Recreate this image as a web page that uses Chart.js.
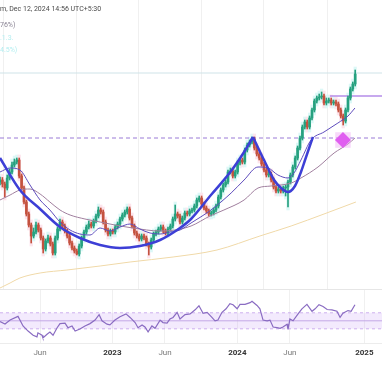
<!DOCTYPE html>
<html>
<head>
<meta charset="utf-8">
<script src="https://cdn.jsdelivr.net/npm/chart.js@4.4.1/dist/chart.umd.min.js"></script>
<style>
  html, body { margin: 0; padding: 0; background: #fff; }
  #wrap { position: relative; width: 382px; height: 382px; overflow: hidden; background: #fff; font-family: Roboto, sans-serif; }
  .pane { position: absolute; left: 0; width: 382px; }
  .sep { position: absolute; left: 0; width: 382px; height: 1px; background: #e6e6e6; z-index: 4; }
  .hdr { position: absolute; left: 0; font-size: 7px; line-height: 10px; white-space: nowrap; z-index: 5; }
</style>
</head>
<body>
<div id="wrap">
  <div class="pane" style="top:0;height:289px"><canvas id="chPrice"></canvas></div>
  <div class="pane" style="top:289px;height:93px"><canvas id="chRsi"></canvas></div>
  <div class="sep" style="top:289px"></div>
  <div class="hdr" style="top:4px;color:#4a4a4a">m, Dec 12, 2024 14:56 UTC+5:30</div>
  <div class="hdr" style="top:20px;color:#8a8494">76%)</div>
  <div class="hdr" style="top:33px;color:#b4eef0">.1.3.</div>
  <div class="hdr" style="top:45px;color:#b4eef0">4.5%)</div>
</div>
<script>
// weekly candles, week 0 ~ mid Feb 2022
const opens = [1180,1200,1160,1120,1220,1280,1350,1380,1400,1240,
  1120,980,860,750,640,680,750,700,620,510,
  590,620,560,470,620,710,780,740,690,640,
  570,520,490,460,540,620,680,730,760,740,
  790,840,900,880,780,700,660,690,680,730,
  760,810,850,880,910,820,740,670,640,610,
  640,620,560,530,600,660,680,710,730,690,
  670,710,740,810,860,840,780,820,870,860,
  890,900,940,1000,1020,960,920,890,860,870,
  900,940,1030,1100,1150,1180,1280,1290,1240,1280,
  1370,1400,1380,1500,1550,1580,1610,1520,1460,1420,
  1360,1300,1250,1260,1200,1130,1090,1110,1090,1120,
  1130,1180,1250,1330,1420,1520,1620,1730,1780,1730,
  1820,1900,1990,2020,2030,2040,1970,1990,2000,1970,
  1980,1960,1900,1840,1790,1900,2020,2110,2160];
const highs = [1230,1225,1180,1250,1310,1380,1410,1420,1420,1260,
  1140,1000,880,770,720,780,770,720,640,610,
  650,640,580,640,730,810,800,760,710,660,
  590,540,510,560,640,700,750,790,780,810,
  860,930,920,900,800,720,710,710,750,780,
  830,870,900,930,930,840,760,690,660,660,
  660,640,580,620,680,700,730,750,750,710,
  730,760,830,950,880,860,840,890,890,910,
  920,960,1020,1040,1040,980,940,910,890,920,
  960,1050,1120,1170,1200,1300,1320,1310,1300,1390,
  1420,1420,1520,1570,1600,1630,1630,1540,1480,1440,
  1380,1320,1290,1280,1220,1150,1130,1130,1140,1150,
  1200,1270,1350,1440,1540,1640,1750,1800,1800,1840,
  1920,2010,2040,2060,2080,2060,2020,2020,2020,2000,
  2000,1980,1920,1860,1920,2040,2130,2180,2300];
const lows = [1150,1130,1030,1100,1200,1260,1330,1360,1220,1100,
  960,840,730,570,620,660,680,600,470,490,
  570,540,450,450,600,690,720,670,620,550,
  500,470,450,440,520,600,660,710,720,720,
  770,820,860,760,680,640,640,660,660,710,
  740,790,830,860,800,720,650,620,590,590,
  600,540,450,510,580,640,660,690,670,650,
  650,690,720,790,820,760,760,800,840,840,
  870,880,920,980,940,900,870,840,840,850,
  880,920,1010,1080,1130,1160,1260,1220,1220,1260,
  1350,1360,1360,1480,1530,1560,1500,1440,1400,1340,
  1280,1230,1230,1180,1110,1070,1070,1070,1070,1040,
  930,1160,1230,1310,1400,1500,1600,1710,1710,1710,
  1800,1880,1970,2000,2010,1950,1950,1970,1950,1950,
  1940,1880,1820,1750,1770,1880,2000,2090,2140];
const closes = [1200,1160,1120,1220,1280,1350,1380,1400,1240,1120,
  980,860,750,640,680,750,700,620,510,590,
  620,560,470,620,710,780,740,690,640,570,
  520,490,460,540,620,680,730,760,740,790,
  840,900,880,780,700,660,690,680,730,760,
  810,850,880,910,820,740,670,640,610,640,
  620,560,530,600,660,680,710,730,690,670,
  710,740,810,860,840,780,820,870,860,890,
  900,940,1000,1020,960,920,890,860,870,900,
  940,1030,1100,1150,1180,1280,1290,1240,1280,1370,
  1400,1380,1500,1550,1580,1610,1520,1460,1420,1360,
  1300,1250,1260,1200,1130,1090,1110,1090,1120,1130,
  1180,1250,1330,1420,1520,1620,1730,1780,1730,1820,
  1900,1990,2020,2030,2040,1970,1990,2000,1970,1980,
  1960,1900,1840,1790,1900,2020,2110,2160,2260];

// moving averages
const ma20Weeks = [0,4.2,8.3,12.5,16.7,20.8,25,29.2,33.3,37.5,41.7,45.8,50,54.2,58.3,62.5,66.7,70.8,75,79.6,87.9,96.3,101.7,107.5,111.7,115.8,120,122.5,125.4,129.6,135,140.8,145,147.9];
const ma20Values = [1280,1320,1300,1150,1000,900,780,700,660,650,720,690,730,760,710,670,660,680,700,770,900,1070,1200,1330,1320,1250,1220,1270,1400,1600,1680,1770,1840,1920];
const ma50Weeks = [0,4.2,8.3,12.5,16.7,20.8,25,29.2,35.4,41.7,47.9,55.4,66.7,72.9,79.6,87.5,93.3,101.7,107.5,112.9,121.3,125.4,132.5,139.2,145,147.9];
const ma50Values = [1000,1050,1100,1110,1060,980,900,850,810,780,750,720,690,700,740,840,900,1000,1120,1140,1170,1220,1330,1470,1560,1620];
const ma200Weeks = [0,4.2,8.3,16.7,27.9,41.7,54.2,72.1,90.4,108.3,121.3,135,148.3];
const ma200Values = [120,170,220,270,300,340,380,430,500,640,740,860,980];

// hand-drawn trend curves
const cupWeeks = [0,8.3,16.7,25,33.3,41.7,50,58.3,66.7,75,79.6,87.9,96.3,101.7,105.4];
const cupValues = [1420,1100,910,730,620,550,520,540,600,720,810,1050,1290,1480,1630];
const dipWeeks = [105.4,110,114.2,117.1,120,122.9,125.4,127.1,128.8,130.4];
const dipValues = [1630,1400,1200,1120,1080,1140,1280,1400,1520,1630];

// levels and signal
const highLevel = 2270;
const breakoutLevel = 1620;
const recentLevel = 2040;
const recentLevelFrom = 137.5;
const signalWeek = 142.9;
const signalValue = 1600;

// RSI
const rsiWeeks = [0,2.1,4.2,7.5,9.6,11.7,13.8,15.4,15.8,17.5,17.9,19.6,20.8,22.1,23.8,25,27.1,28.3,30,31.3,33.3,35.4,37.5,39.6,41.3,42.5,44.6,45.8,47.9,50,52.5,54.2,56.3,57.5,59.2,60.4,61.7,63.3,64.6,66.7,67.9,69.6,70.8,72.1,73.8,75,77.1,79.2,81.3,82.9,84.6,86.3,88.3,89.6,90.8,92.5,94.2,95.8,97.1,98.8,100,102.1,104.2,105,107.1,108.3,109.6,111.3,112.5,113.8,115.4,116.7,117.9,119.6,120,120.8,122.1,124.2,125.8,127.9,130,131.3,132.9,134.6,136.3,138.3,140.4,141.7,142.9,145,146.3,147.9];
const rsiValues = [49,46,51,55.5,43.6,37.2,32,30,35,32,28.6,33.3,35.9,32,41.4,46.5,47,41.4,43.6,37.2,39.7,43.6,46.5,50.9,57.7,50,45.8,44.9,50.9,55.1,58.6,54.2,47.8,41.4,44.9,42.3,36.3,43.6,40.6,50.9,47.8,47,52.2,54.2,60.6,52.2,57.7,58.6,63.7,68.8,59.4,60.6,54.2,50,50.9,60.6,65,71.4,70.1,65,70.5,70.5,72.7,74.4,69.2,65,50.9,50,50.9,42.3,41.4,40.6,42.3,45.8,39.4,52.2,50,58.6,65,70.5,61.9,65,70.1,67.9,64.1,63.7,61.9,54.2,59.4,62.8,61.9,70.1];
const rsiUpper = 60;
const rsiMid = 50;
const rsiLower = 40;

// x axis
const tickWeeks = [16.7, 46.8, 68.75, 98.9, 120.8, 151.8];
const tickLabels = ['Jun', '2023', 'Jun', '2024', 'Jun', '2025'];

const X_MAX = 382 / 2.4;
const upColor = '#26a17f';
const downColor = '#c4523f';

function pts(xs, ys) { return xs.map((x, i) => ({ x: x, y: ys[i] })); }
function hline(y, x0, x1) { return [{ x: x0, y: y }, { x: x1, y: y }]; }

const idx = closes.map((_, i) => i);
const candleColors = idx.map(i => closes[i] >= opens[i] ? upColor : downColor);

function xScale(showLabels) {
  return {
    type: 'linear', min: 0, max: X_MAX, offset: false,
    afterBuildTicks: (s) => { s.ticks = tickWeeks.map(v => ({ value: v })); },
    grid: { color: '#f0f0f0', drawTicks: false },
    border: { display: showLabels, color: '#ececec' },
    ticks: {
      display: showLabels, autoSkip: false, maxRotation: 0, padding: 5,
      color: (c) => /^\d{4}$/.test(tickLabels[c.index]) ? '#333' : '#777',
      font: (c) => ({ family: 'Roboto', size: 8, weight: /^\d{4}$/.test(tickLabels[c.index]) ? 'bold' : 'normal' }),
      callback: (v, i) => tickLabels[i]
    }
  };
}

const lineBase = { type: 'line', pointRadius: 0, fill: false, cubicInterpolationMode: 'monotone' };
const barBase = { type: 'bar', grouped: false };

new Chart(document.getElementById('chPrice').getContext('2d'), {
  type: 'line',
  data: {
    datasets: [
      { ...barBase, order: 20, data: idx.map(i => ({ x: i, y: [lows[i] - 30, highs[i] + 30] })),
        backgroundColor: idx.map(i => closes[i] >= opens[i] ? '#dcf8f7' : '#fde4ec'), barThickness: 2.6 },
      { ...lineBase, order: 15, data: pts(ma200Weeks, ma200Values), borderColor: '#f0d9a8', borderWidth: 1 },
      { ...lineBase, order: 14, data: hline(highLevel, 0, X_MAX), borderColor: '#cfe3e8', borderWidth: 1 },
      { ...lineBase, order: 14, data: hline(breakoutLevel, 0, X_MAX), borderColor: '#9a7ad6', borderWidth: 1, borderDash: [4, 3] },
      { ...lineBase, order: 14, data: hline(recentLevel, recentLevelFrom, X_MAX), borderColor: '#b48ce8', borderWidth: 1.5 },
      { ...barBase, order: 12, data: idx.map(i => ({ x: i, y: [lows[i], highs[i]] })),
        backgroundColor: candleColors, barThickness: 1 },
      { ...barBase, order: 11, data: idx.map(i => ({ x: i, y: [opens[i], closes[i]] })),
        backgroundColor: candleColors, barThickness: 2 },
      { ...lineBase, order: 8, data: pts(ma50Weeks, ma50Values), borderColor: '#a07f9e', borderWidth: 1 },
      { ...lineBase, order: 7, data: pts(ma20Weeks, ma20Values), borderColor: '#5e4cbc', borderWidth: 1 },
      { ...lineBase, order: 5, data: pts(cupWeeks, cupValues), borderColor: '#3d3fd6', borderWidth: 2.5 },
      { ...lineBase, order: 5, data: pts(dipWeeks, dipValues), borderColor: '#3d3fd6', borderWidth: 2.5 },
      { type: 'line', order: 3, showLine: false, data: [{ x: signalWeek, y: signalValue }],
        pointStyle: 'rect', pointRadius: 11, backgroundColor: 'rgba(240,170,245,0.45)', borderWidth: 0 },
      { type: 'line', order: 2, showLine: false, data: [{ x: signalWeek, y: signalValue }],
        pointStyle: 'rectRot', pointRadius: 8, backgroundColor: '#e05ef0', borderWidth: 0 }
    ]
  },
  options: {
    responsive: true, maintainAspectRatio: false, animation: false,
    layout: { padding: 0, autoPadding: false },
    plugins: { legend: { display: false }, tooltip: { enabled: false } },
    scales: {
      x: xScale(false),
      y: { display: false, min: 110, max: 3000 }
    }
  }
});

new Chart(document.getElementById('chRsi').getContext('2d'), {
  type: 'line',
  data: {
    datasets: [
      { ...lineBase, order: 5, data: hline(rsiUpper, 0, X_MAX), borderColor: '#cdb0ee', borderWidth: 1,
        borderDash: [3, 3], fill: { value: rsiLower }, backgroundColor: 'rgba(200,160,245,0.22)' },
      { ...lineBase, order: 5, data: hline(rsiLower, 0, X_MAX), borderColor: '#cdb0ee', borderWidth: 1, borderDash: [3, 3] },
      { ...lineBase, order: 4, data: hline(rsiMid, 0, X_MAX), borderColor: '#c4a8e6', borderWidth: 1 },
      { type: 'line', order: 1, pointRadius: 0, tension: 0, data: pts(rsiWeeks, rsiValues), borderColor: '#8a6cc2', borderWidth: 1.2 }
    ]
  },
  options: {
    responsive: true, maintainAspectRatio: false, animation: false,
    layout: { padding: { top: 0, left: 0, right: 0, bottom: 19 }, autoPadding: false },
    plugins: { legend: { display: false }, tooltip: { enabled: false } },
    scales: {
      x: xScale(true),
      y: { display: false, min: 21.8, max: 89.7 }
    }
  }
});
</script>
</body>
</html>
